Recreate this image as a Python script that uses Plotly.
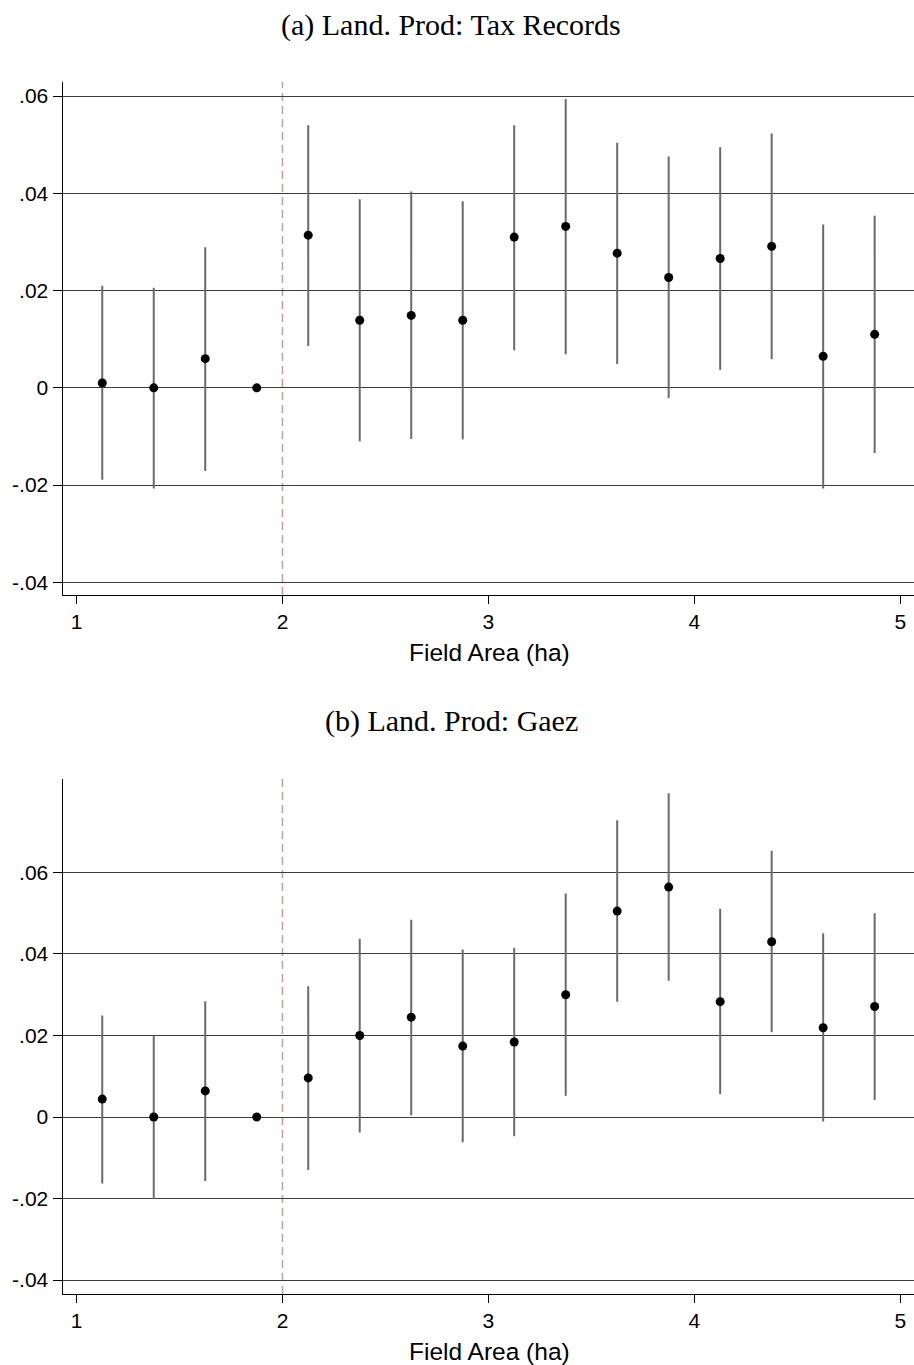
import plotly.graph_objects as go

# Field-area bins (bin midpoints, ha)
field_area = [1.125, 1.375, 1.625, 1.875, 2.125, 2.375, 2.625, 2.875,
              3.125, 3.375, 3.625, 3.875, 4.125, 4.375, 4.625, 4.875]

# (a) Land productivity from tax records: coefficient and 95% CI
coef_tax = [0.0010, 0.0000, 0.0060, 0.0000, 0.0314, 0.0139, 0.0149, 0.0139,
            0.0310, 0.0332, 0.0277, 0.0227, 0.0266, 0.0291, 0.0065, 0.0110]
lo_tax = [-0.0189, -0.0207, -0.0171, 0.0000, 0.0086, -0.0110, -0.0105, -0.0106,
          0.0077, 0.0069, 0.0049, -0.0021, 0.0037, 0.0059, -0.0207, -0.0134]
hi_tax = [0.0210, 0.0206, 0.0289, 0.0000, 0.0540, 0.0388, 0.0404, 0.0384,
          0.0540, 0.0594, 0.0504, 0.0476, 0.0495, 0.0523, 0.0336, 0.0354]

# (b) Land productivity from GAEZ: coefficient and 95% CI
coef_gaez = [0.0044, 0.0000, 0.0064, 0.0000, 0.0096, 0.0200, 0.0245, 0.0174,
             0.0184, 0.0300, 0.0505, 0.0564, 0.0283, 0.0430, 0.0219, 0.0271]
lo_gaez = [-0.0163, -0.0201, -0.0157, 0.0000, -0.0130, -0.0038, 0.0004, -0.0062,
           -0.0047, 0.0052, 0.0283, 0.0334, 0.0056, 0.0208, -0.0011, 0.0042]
hi_gaez = [0.0249, 0.0200, 0.0284, 0.0000, 0.0321, 0.0437, 0.0484, 0.0411,
           0.0415, 0.0548, 0.0728, 0.0794, 0.0511, 0.0653, 0.0451, 0.0500]

y_ticks = [-0.04, -0.02, 0.0, 0.02, 0.04, 0.06]
y_tick_text = ["-.04", "-.02", "0", ".02", ".04", ".06"]
x_ticks = [1, 2, 3, 4, 5]
cutoff = 2

panel_titles = ["(a) Land. Prod: Tax Records", "(b) Land. Prod: Gaez"]
x_title = "Field Area (ha)"

W, H = 914, 1365
SANS = "Liberation Sans, Arial, sans-serif"
SERIF = "Liberation Serif, Times New Roman, serif"


def py(px):
    """Convert a pixel row (from top) to paper y."""
    return 1 - px / H


fig = go.Figure()

panels = [
    dict(coef=coef_tax, lo=lo_tax, hi=hi_tax, xa="x", ya="y",
         top=82, bottom=595, yrange=[-0.0426, 0.0629]),
    dict(coef=coef_gaez, lo=lo_gaez, hi=hi_gaez, xa="x2", ya="y2",
         top=778.6, bottom=1294, yrange=[-0.0434, 0.0830]),
]

layout_axes = {}
annotations = []
shapes = []
for i, p in enumerate(panels):
    up = [h - c for h, c in zip(p["hi"], p["coef"])]
    down = [c - l for c, l in zip(p["coef"], p["lo"])]
    fig.add_trace(go.Scatter(
        x=field_area, y=p["coef"], mode="markers",
        xaxis=p["xa"], yaxis=p["ya"],
        marker=dict(color="black", size=9),
        error_y=dict(type="data", symmetric=False, array=up, arrayminus=down,
                     thickness=2, width=0, color="#6a6a6a"),
        showlegend=False,
    ))
    xk = "xaxis" if i == 0 else "xaxis2"
    yk = "yaxis" if i == 0 else "yaxis2"
    layout_axes[xk] = dict(
        domain=[62.5 / W, 1], range=[0.932, 5.066], anchor=p["ya"],
        tickvals=x_ticks, ticks="outside", ticklen=8, tickcolor="black",
        tickfont=dict(family=SANS, size=21, color="black"),
        showline=True, linecolor="black", linewidth=1,
        showgrid=False, zeroline=False,
    )
    layout_axes[yk] = dict(
        domain=[py(p["bottom"]), py(p["top"])], range=p["yrange"], anchor=p["xa"],
        tickvals=y_ticks, ticktext=y_tick_text, ticks="outside", ticklen=9,
        tickcolor="black", tickfont=dict(family=SANS, size=21, color="black"),
        showline=True, linecolor="black", linewidth=1,
        showgrid=True, gridcolor="#3c3c3c", gridwidth=1, zeroline=False,
    )
    # vertical reference line at the cutoff
    shapes.append(dict(
        type="line", xref=p["xa"], yref=p["ya"] + " domain",
        x0=cutoff, x1=cutoff, y0=0, y1=1,
        line=dict(color="#c4a29d", width=1.6, dash="8px,5px"), layer="below",
    ))
    annotations.append(dict(
        text=panel_titles[i], xref="paper", yref="paper",
        x=451 / W, y=py(p["top"] - 57.5), xanchor="center", yanchor="middle",
        showarrow=False, font=dict(family=SERIF, size=30, color="black"),
    ))
    annotations.append(dict(
        text=x_title, xref="paper", yref="paper",
        x=489 / W, y=py(p["bottom"] + 57), xanchor="center", yanchor="middle",
        showarrow=False, font=dict(family=SANS, size=24.5, color="black"),
    ))

fig.update_layout(
    width=W, height=H,
    margin=dict(l=0, r=0, t=0, b=0),
    paper_bgcolor="white", plot_bgcolor="white",
    shapes=shapes, annotations=annotations,
    **layout_axes,
)

fig.write_html("out.html")
